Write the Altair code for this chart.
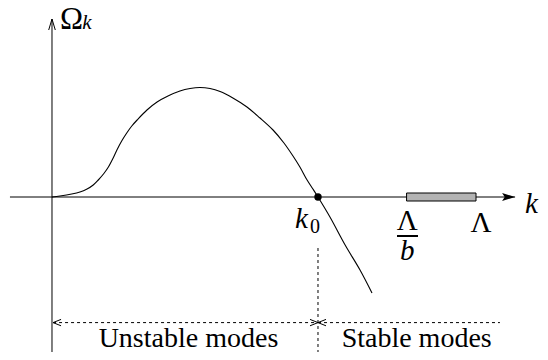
import altair as alt
import pandas as pd

# Dispersion curve Omega_k versus k (k in units of k0)
curve_k = [0, 0.030, 0.074, 0.105, 0.130, 0.155, 0.174, 0.195, 0.212, 0.230, 0.244,
           0.262, 0.281, 0.300, 0.320, 0.357, 0.395, 0.436, 0.481, 0.519, 0.556,
           0.594, 0.632, 0.680, 0.733, 0.782, 0.831, 0.872, 0.906, 0.932, 0.959,
           0.981, 1.0, 1.045, 1.102, 1.158, 1.203]
curve_omega = [0, 0.010, 0.030, 0.050, 0.077, 0.12, 0.17, 0.235, 0.30, 0.39, 0.47,
               0.56, 0.64, 0.71, 0.77, 0.87, 0.95, 1.01, 1.06, 1.085, 1.095,
               1.085, 1.055, 0.99, 0.90, 0.79, 0.67, 0.54, 0.41, 0.30, 0.17,
               0.08, 0, -0.20, -0.48, -0.73, -0.96]

k0 = 1.0
lambda_b = 1.333
lambda_max = 1.594
band_half = 0.04
x_axis_range = [-0.158, 1.741]
y_axis_range = [-1.63, 1.78]
modes_level = -1.256
modes_left = 0.004
modes_right = 1.684
dash_top = -0.51

FONT = "Liberation Serif, Times New Roman, serif"
xs = alt.Scale(domain=[-0.1654, 1.8346], nice=False, zero=False)
ys = alt.Scale(domain=[-1.55, 1.89], nice=False, zero=False)

def X(f="k"):
    return alt.X(f"{f}:Q", scale=xs, axis=None)

def Y(f="omega"):
    return alt.Y(f"{f}:Q", scale=ys, axis=None)

curve = alt.Chart(pd.DataFrame({"k": curve_k, "omega": curve_omega, "o": range(len(curve_k))})).mark_line(
    color="black", strokeWidth=1.1, interpolate="catmull-rom").encode(x=X(), y=Y(), order="o:Q")

xaxis = alt.Chart(pd.DataFrame({"k": [x_axis_range[0]], "k2": [x_axis_range[1]], "omega": [0]})).mark_rule(
    color="black", strokeWidth=1).encode(x=X(), x2="k2:Q", y=Y())
yaxis = alt.Chart(pd.DataFrame({"k": [0], "omega": [y_axis_range[0]], "o2": [y_axis_range[1]]})).mark_rule(
    color="black", strokeWidth=1).encode(x=X(), y=Y(), y2="o2:Q")

xarrow = alt.Chart(pd.DataFrame({"k": [x_axis_range[1]], "omega": [0]})).mark_point(
    shape="M-1,-0.3 L0,0 L-1,0.3 L-0.8,0 Z", filled=True, color="black", size=676, opacity=1).encode(x=X(), y=Y())
yarrow = alt.Chart(pd.DataFrame({"k": [0], "omega": [y_axis_range[1]]})).mark_point(
    shape="M-0.3,1 L0,0 L0.3,1", filled=False, color="black", size=484, strokeWidth=1, opacity=1).encode(x=X(), y=Y())

band = alt.Chart(pd.DataFrame({"k": [lambda_b], "k2": [lambda_max], "omega": [-band_half], "o2": [band_half]})).mark_rect(
    fill="#b3b3b3", stroke="black", strokeWidth=1).encode(x=X(), x2="k2:Q", y=Y(), y2="o2:Q")

dot = alt.Chart(pd.DataFrame({"k": [k0], "omega": [0]})).mark_circle(
    color="black", size=55, opacity=1).encode(x=X(), y=Y())

vdash = alt.Chart(pd.DataFrame({"k": [k0], "omega": [dash_top], "o2": [y_axis_range[0]]})).mark_rule(
    color="black", strokeWidth=1, strokeDash=[3, 3]).encode(x=X(), y=Y(), y2="o2:Q")

hdash = alt.Chart(pd.DataFrame({"k": [modes_left, k0], "k2": [k0, modes_right], "omega": [modes_level] * 2})).mark_rule(
    color="black", strokeWidth=1, strokeDash=[3, 3]).encode(x=X(), x2="k2:Q", y=Y())

left_heads = alt.Chart(pd.DataFrame({"k": [modes_left, k0], "omega": [modes_level] * 2})).mark_point(
    shape="M1,-0.4 L0,0 L1,0.4", filled=False, color="black", size=256, strokeWidth=1, opacity=1).encode(x=X(), y=Y())
right_heads = alt.Chart(pd.DataFrame({"k": [k0], "omega": [modes_level]})).mark_point(
    shape="M-1,-0.4 L0,0 L-1,0.4", filled=False, color="black", size=256, strokeWidth=1, opacity=1).encode(x=X(), y=Y())

frac_bar = alt.Chart(pd.DataFrame({"k": [1.297], "k2": [1.376], "omega": [-0.39]})).mark_rule(
    color="black", strokeWidth=2).encode(x=X(), x2="k2:Q", y=Y())

def text(df, size, style="normal", align="left"):
    return alt.Chart(pd.DataFrame(df)).mark_text(
        font=FONT, fontSize=size, fontStyle=style, align=align, baseline="alphabetic", color="black").encode(
        x=X(), y=Y(), text="t:N")

t_omega = text({"k": [0.030], "omega": [1.68], "t": ["Ω"]}, 31)
t_sub_k = text({"k": [0.114], "omega": [1.68], "t": ["k"]}, 21, "italic")
t_k = text({"k": [1.778], "omega": [-0.16], "t": ["k"]}, 29, "italic")
t_k0 = text({"k": [0.914], "omega": [-0.31], "t": ["k"]}, 29, "italic")
t_0 = text({"k": [0.970], "omega": [-0.36], "t": ["0"]}, 20)
t_lams = text({"k": [1.336, 1.613], "omega": [-0.33, -0.35], "t": ["Λ", "Λ"]}, 29, align="center")
t_b = text({"k": [1.336], "omega": [-0.63], "t": ["b"]}, 29, "italic", align="center")
t_modes = text({"k": [0.513, 1.371], "omega": [-1.50, -1.50], "t": ["Unstable modes", "Stable modes"]}, 28, align="center")

chart = alt.layer(
    xaxis, yaxis, xarrow, yarrow, curve, band, dot, vdash, hdash, left_heads, right_heads,
    frac_bar, t_omega, t_sub_k, t_k, t_k0, t_0, t_lams, t_b, t_modes
).properties(
    width=532, height=344, padding=0, autosize=alt.AutoSizeParams(type="none")
).configure_view(stroke=None)

chart.save("out.html", embed_options={"renderer": "svg", "actions": False})
